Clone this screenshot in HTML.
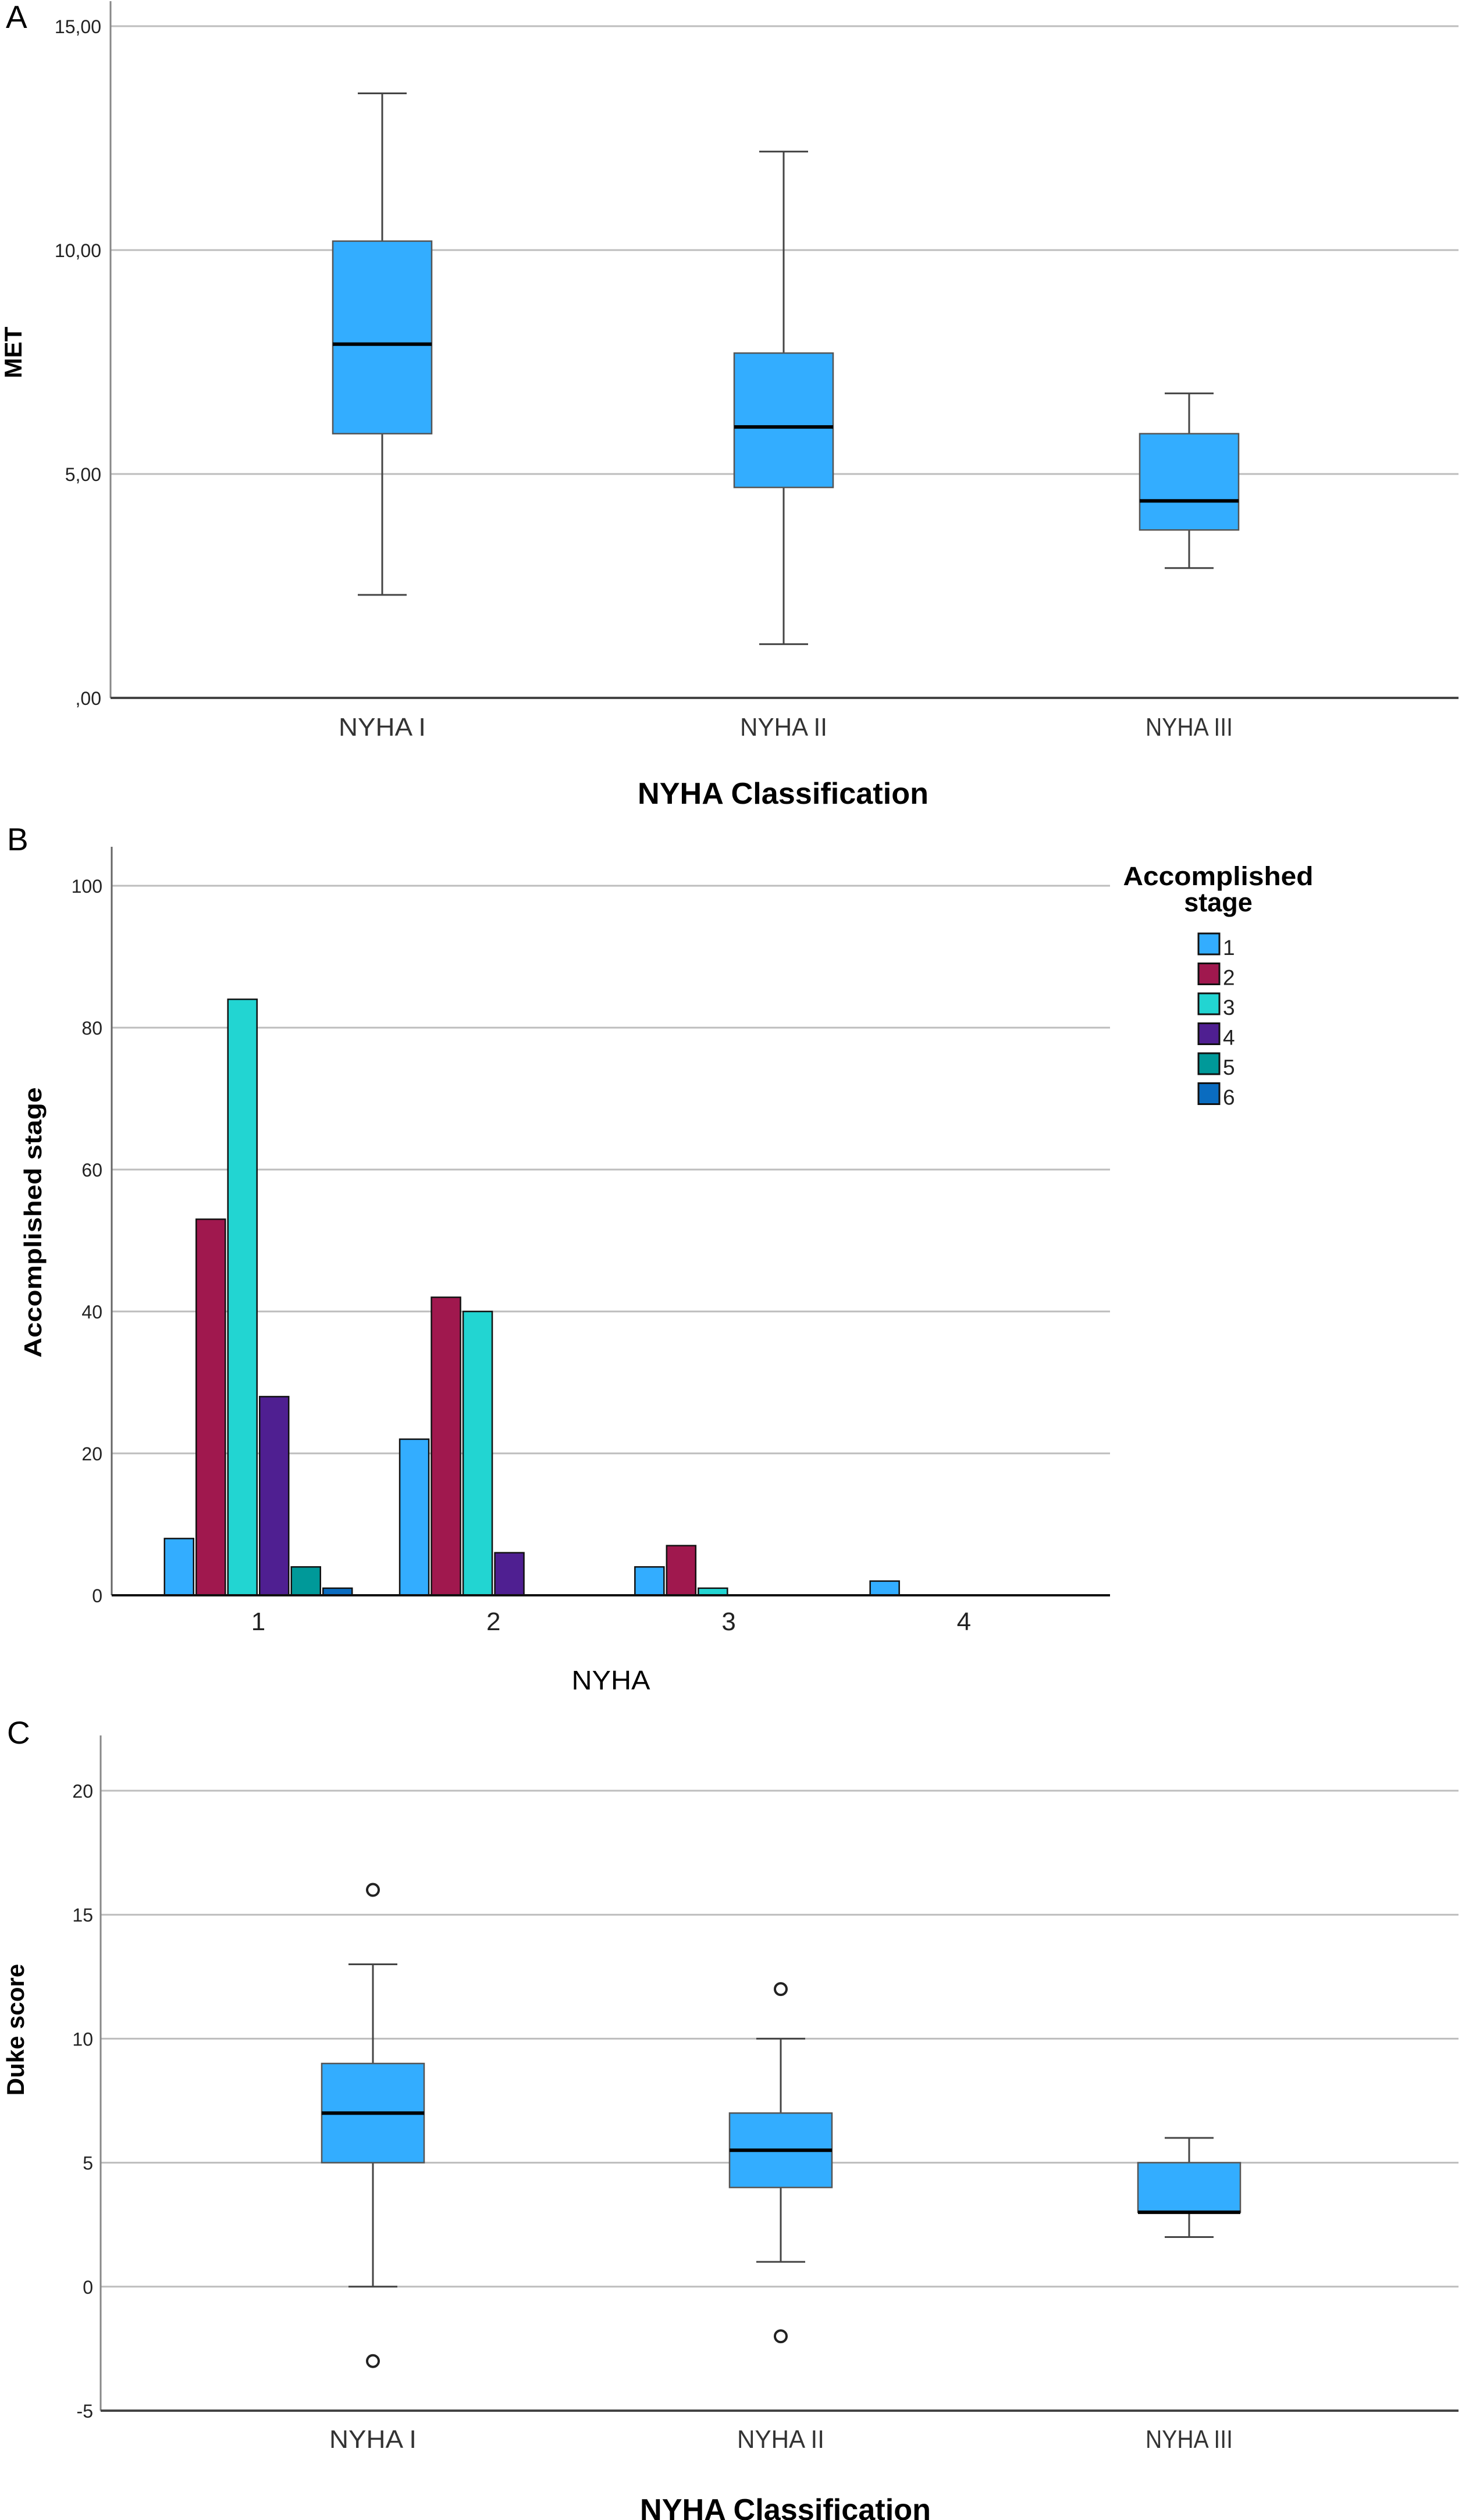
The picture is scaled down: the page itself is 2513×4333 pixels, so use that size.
<!DOCTYPE html>
<html><head><meta charset="utf-8"><style>
html,body{margin:0;padding:0;background:#fff;}
svg{display:block;font-family:"Liberation Sans",Arial,sans-serif;}
</style></head><body>
<svg id="fig" width="2513" height="4333" viewBox="0 0 2513 4333" xmlns="http://www.w3.org/2000/svg">
<rect width="2513" height="4333" fill="#fff"/>
<g id="A"></g>
<g id="B"></g>
<g id="C"></g>
</svg>
<script>
// Panel A data
const metCategories = ["NYHA I", "NYHA II", "NYHA III"];
const metWhiskerLow = [2.3, 1.2, 2.9];
const metQ1 = [5.9, 4.7, 3.75];
const metMedian = [7.9, 6.05, 4.4];
const metQ3 = [10.2, 7.7, 5.9];
const metWhiskerHigh = [13.5, 12.2, 6.8];
const metTicks = [0, 5, 10, 15];
const metTickLabels = [",00", "5,00", "10,00", "15,00"];

// Panel B data
const stageCategories = ["1", "2", "3", "4"];
const stageSeries = ["1", "2", "3", "4", "5", "6"];
const stage1 = [8, 22, 4, 2];
const stage2 = [53, 42, 7, 0];
const stage3 = [84, 40, 1, 0];
const stage4 = [28, 6, 0, 0];
const stage5 = [4, 0, 0, 0];
const stage6 = [1, 0, 0, 0];
const stageTicks = [0, 20, 40, 60, 80, 100];

// Panel C data
const dukeCategories = ["NYHA I", "NYHA II", "NYHA III"];
const dukeWhiskerLow = [0, 1, 2];
const dukeQ1 = [5, 4, 3];
const dukeMedian = [7, 5.5, 3];
const dukeQ3 = [9, 7, 5];
const dukeWhiskerHigh = [13, 10, 6];
const dukeOutliers = [[16, -3], [12, -2], []];
const dukeTicks = [-5, 0, 5, 10, 15, 20];

const NS = "http://www.w3.org/2000/svg";
function mk(parent, tag, attrs, text) {
  const e = document.createElementNS(NS, tag);
  for (const k in attrs) e.setAttribute(k, attrs[k]);
  if (text !== undefined) e.textContent = text;
  parent.appendChild(e);
  return e;
}

function boxPlot(g, cfg) {
  const y = v => cfg.y0 - (v - cfg.vmin) * cfg.pxPer;
  // letter
  const L = mk(g, "text", {x: cfg.letterX, y: cfg.letterY, "font-size": 55}, cfg.letter);
  
  
  // gridlines + ticks
  cfg.ticks.forEach((t, i) => {
    if (t !== cfg.vmin || cfg.gridAtMin) {
      const gl = mk(g, "line", {x1: cfg.axX, x2: cfg.axR, y1: y(t), y2: y(t), stroke: "#bdbdbd", "stroke-width": 3});
      
      
    }
    const tl = mk(g, "text", {x: cfg.tickLabelX, y: y(t) + 12, "font-size": 32, "text-anchor": "end", fill: "#222"}, cfg.tickLabels ? cfg.tickLabels[i] : String(t));
    
    
  });
  const ya = mk(g, "line", {x1: cfg.axX, x2: cfg.axX, y1: cfg.axTop, y2: cfg.y0, stroke: "#888", "stroke-width": 3});
  
  
  const xa = mk(g, "line", {x1: cfg.axX, x2: cfg.axR, y1: cfg.y0, y2: cfg.y0, stroke: "#444", "stroke-width": 4});
  
  
  cfg.cats.forEach((c, i) => {
    const cx = cfg.cx[i], hw = cfg.boxW / 2, cw = cfg.capW / 2;
    const box = mk(g, "g", {});
    
    
    mk(box, "line", {x1: cx, x2: cx, y1: y(cfg.wHi[i]), y2: y(cfg.q3[i]), stroke: "#444", "stroke-width": 3});
    mk(box, "line", {x1: cx, x2: cx, y1: y(cfg.q1[i]), y2: y(cfg.wLo[i]), stroke: "#444", "stroke-width": 3});
    mk(box, "line", {x1: cx - cw, x2: cx + cw, y1: y(cfg.wHi[i]), y2: y(cfg.wHi[i]), stroke: "#444", "stroke-width": 3});
    mk(box, "line", {x1: cx - cw, x2: cx + cw, y1: y(cfg.wLo[i]), y2: y(cfg.wLo[i]), stroke: "#444", "stroke-width": 3});
    mk(box, "rect", {x: cx - hw, y: y(cfg.q3[i]), width: cfg.boxW, height: y(cfg.q1[i]) - y(cfg.q3[i]), fill: "#33adff", stroke: "#555", "stroke-width": 2.5});
    mk(box, "line", {x1: cx - hw, x2: cx + hw, y1: y(cfg.med[i]), y2: y(cfg.med[i]), stroke: "#000", "stroke-width": 6});
    if (cfg.outliers) cfg.outliers[i].forEach(o => {
      const oc = mk(g, "circle", {cx: cx, cy: y(o), r: 10, fill: "none", stroke: "#222", "stroke-width": 4});
      
      
    });
    const xl = mk(g, "text", {x: cx, y: cfg.xLabY, "font-size": 44, "text-anchor": "middle", fill: "#333", textLength: 150, lengthAdjust: "spacingAndGlyphs"}, c);
    
    
  });
  const xt = mk(g, "text", {x: cfg.xTitleX, y: cfg.xTitleY, "font-size": 52, "font-weight": "bold", "text-anchor": "middle", textLength: 500, lengthAdjust: "spacingAndGlyphs"}, "NYHA Classification");
  
  
  const yt = mk(g, "text", {x: 0, y: 0, "font-size": 42, "font-weight": "bold", "text-anchor": "middle", transform: `translate(${cfg.yTitleX},${cfg.yTitleY}) rotate(-90)`}, cfg.yTitle);
  
  
}

boxPlot(document.getElementById("A"), {
  letter: "A", letterX: 10, letterY: 48,
  vmin: 0, y0: 1200, pxPer: 77.0, axX: 190, axR: 2507, axTop: 2,
  ticks: metTicks, tickLabels: metTickLabels, tickLabelX: 174,
  cats: metCategories, cx: [657, 1347, 2044], boxW: 170, capW: 84,
  wLo: metWhiskerLow, q1: metQ1, med: metMedian, q3: metQ3, wHi: metWhiskerHigh,
  xLabY: 1265, xTitleX: 1346, xTitleY: 1382, yTitle: "MET", yTitleX: 37, yTitleY: 606
});

boxPlot(document.getElementById("C"), {
  letter: "C", letterX: 12, letterY: 2998,
  vmin: -5, y0: 4145, pxPer: 42.64, axX: 173, axR: 2507, axTop: 2984,
  ticks: dukeTicks, tickLabelX: 160,
  cats: dukeCategories, cx: [641, 1342, 2044], boxW: 176, capW: 84,
  wLo: dukeWhiskerLow, q1: dukeQ1, med: dukeMedian, q3: dukeQ3, wHi: dukeWhiskerHigh,
  outliers: dukeOutliers,
  xLabY: 4209, xTitleX: 1350, xTitleY: 4333, yTitle: "Duke score", yTitleX: 41, yTitleY: 3490
});

// Panel B
(function () {
  const g = document.getElementById("B");
  const y0 = 2743, pxPer = 12.2, axX = 192, axR = 1908;
  const y = v => y0 - v * pxPer;
  const series = [stage1, stage2, stage3, stage4, stage5, stage6];
  const colors = ["#33adff", "#a0184e", "#22d5d2", "#4f1f91", "#009999", "#0a6cc0"];
  const L = mk(g, "text", {x: 12, y: 1462, "font-size": 55}, "B");
  
  
  stageTicks.forEach(t => {
    if (t > 0) {
      const gl = mk(g, "line", {x1: axX, x2: axR, y1: y(t), y2: y(t), stroke: "#bdbdbd", "stroke-width": 3});
      
      
    }
    const tl = mk(g, "text", {x: 176, y: y(t) + 12, "font-size": 32, "text-anchor": "end", fill: "#222"}, String(t));
    
    
  });
  const ya = mk(g, "line", {x1: axX, x2: axX, y1: 1456, y2: y0, stroke: "#666", "stroke-width": 3});
  
  
  const groupX = i => 444 + i * 404.3;
  const stride = 54.5, bw = 50;
  stageCategories.forEach((c, i) => {
    series.forEach((s, j) => {
      const v = s[i];
      if (v <= 0) return;
      const x = groupX(i) + (j - 2.5) * stride - bw / 2;
      const b = mk(g, "rect", {x: x, y: y(v), width: bw, height: y0 - y(v), fill: colors[j], stroke: "#111", "stroke-width": 2.5});
      
      
    });
    const xl = mk(g, "text", {x: groupX(i), y: 2803, "font-size": 44, "text-anchor": "middle", fill: "#222"}, c);
    
    
  });
  const xa = mk(g, "line", {x1: axX, x2: axR, y1: y0, y2: y0, stroke: "#111", "stroke-width": 4});
  
  
  const xt = mk(g, "text", {x: 1050, y: 2905, "font-size": 46, "text-anchor": "middle", textLength: 135, lengthAdjust: "spacingAndGlyphs"}, "NYHA");
  
  
  const yt = mk(g, "text", {x: 0, y: 0, "font-size": 42, "font-weight": "bold", "text-anchor": "middle", transform: "translate(71,2102) rotate(-90)", textLength: 465, lengthAdjust: "spacingAndGlyphs"}, "Accomplished stage");
  
  
  // legend
  const lg = mk(g, "g", {});
  
  
  const t1 = mk(lg, "text", {x: 2094, y: 1522, "font-size": 45, "font-weight": "bold", "text-anchor": "middle", textLength: 327, lengthAdjust: "spacingAndGlyphs"}, "Accomplished");
  
  
  const t2 = mk(lg, "text", {x: 2094, y: 1567, "font-size": 45, "font-weight": "bold", "text-anchor": "middle"}, "stage");
  
  
  stageSeries.forEach((s, j) => {
    const e = mk(lg, "g", {});
    
    
    mk(e, "rect", {x: 2060, y: 1605 + j * 51.5, width: 36, height: 36, fill: colors[j], stroke: "#111", "stroke-width": 3});
    mk(e, "text", {x: 2102, y: 1642 + j * 51.5, "font-size": 37, fill: "#222"}, s);
  });
})();
</script>
</body></html>
